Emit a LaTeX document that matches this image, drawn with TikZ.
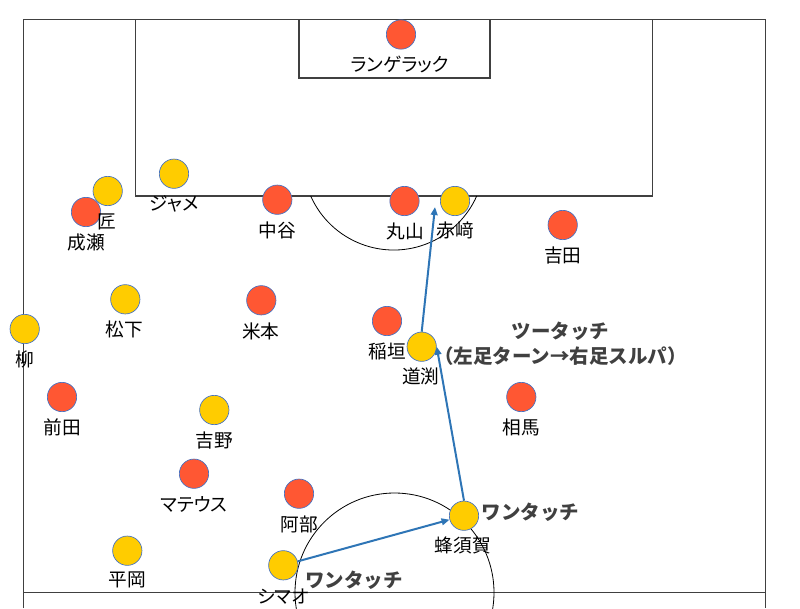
\documentclass[tikz,border=0pt]{standalone}
\usepackage{fontspec}
\setmainfont{Noto Sans CJK JP}[RawFeature={+palt}]
\newfontfamily\notefont{Noto Sans CJK JP}
\usetikzlibrary{arrows.meta,calc}
\definecolor{rosso}{HTML}{FF5733}
\definecolor{giallo}{HTML}{FFCC00}
\definecolor{bordo}{HTML}{4472C4}
\definecolor{passaggio}{HTML}{2E75B6}
\definecolor{linea}{HTML}{404040}

\begin{document}
\begin{tikzpicture}[x=0.75pt,y=-0.75pt,font=\fontsize{14}{17}\selectfont,
	avv/.style={circle,minimum size=22pt,inner sep=0pt,draw=bordo,line width=0.5pt,fill=rosso},
	noi/.style={avv,fill=giallo},
	nome/.style={inner sep=0pt},
	nota/.style={inner sep=0pt,text=linea,align=center,font=\notefont\bfseries\fontsize{14.6}{18.5}\selectfont},
	pass/.style={passaggio,line width=1.5pt,-{Triangle[length=6pt,width=5pt]}}]

	\useasboundingbox (0,0) rectangle (800,608);
	\clip (0,0) rectangle (800,608);

	% Campo
	\draw[linea, line width=0.9pt] (23.3,608) -- (23.3,19.5) -- (765.7,19.5) -- (765.7,608);
	\draw[linea, line width=0.9pt] (23.3,592.5) -- (765.7,592.5);
	\draw[linea, line width=0.9pt] (135.3,19.5) rectangle (652.3,196);
	\draw[linea, line width=0.9pt] (299,19.5) rectangle (490,78);
	\draw[line width=0.6pt] (310.7,196) arc[start angle=156.1, end angle=23.9, radius=90.8];
	\draw[line width=0.6pt] (394.5,592.5) circle[radius=99.5];

	% Avversari (rossi)
	\node[avv] (langerak) at (401,34.5) {};
	\node[avv] (naruse) at (86,212) {};
	\node[avv] (nakatani) at (277.3,199.7) {};
	\node[avv] (maruyama) at (404.5,201) {};
	\node[avv] (yoshida) at (562.7,225) {};
	\node[avv] (yonemoto) at (261.3,300.3) {};
	\node[avv] (inagaki) at (387,321) {};
	\node[avv] (maeda) at (62,397) {};
	\node[avv] (soma) at (521.3,397) {};
	\node[avv] (mateus) at (194,473.7) {};
	\node[avv] (abe) at (299,493.7) {};

	% Squadra (gialli)
	\node[noi] (takumi) at (107.7,191) {};
	\node[noi] (jame) at (174,173.7) {};
	\node[noi] (akasaki) at (455,201) {};
	\node[noi] (yanagi) at (24.7,329) {};
	\node[noi] (matsushita) at (125.3,299.3) {};
	\node[noi] (michibuchi) at (421.7,346.7) {};
	\node[noi] (yoshino) at (214.3,410) {};
	\node[noi] (hiraoka) at (127.3,550.7) {};
	\node[noi] (shimao) at (283.3,565.3) {};
	\node[noi] (hachisuka) at (464,515.7) {};

	% Nomi
	\node[nome] (l-langerak) at (400,64) {ランゲラック};
	\node[nome] (l-naruse) at (86,242) {成瀬};
	\node[nome] (l-nakatani) at (277.3,230) {中谷};
	\node[nome] (l-maruyama) at (405,231) {丸山};
	\node[nome] (l-yoshida) at (562.7,255) {吉田};
	\node[nome] (l-yonemoto) at (260.7,331) {米本};
	\node[nome] (l-inagaki) at (387,351) {稲垣};
	\node[nome] (l-maeda) at (62,427.7) {前田};
	\node[nome] (l-soma) at (521.3,427) {相馬};
	\node[nome] (l-mateus) at (194,504.3) {マテウス};
	\node[nome] (l-abe) at (299,524) {阿部};
	\node[nome] (l-takumi) at (107,222) {匠};
	\node[nome] (l-jame) at (174,204) {ジャメ};
	\node[nome] (l-akasaki) at (455,230) {赤﨑};
	\node[nome] (l-yanagi) at (24.7,359) {柳};
	\node[nome] (l-matsushita) at (124,329.3) {松下};
	\node[nome] (l-michibuchi) at (420.7,376.7) {道渕};
	\node[nome] (l-yoshino) at (214.3,440) {吉野};
	\node[nome] (l-hiraoka) at (127.3,580) {平岡};
	\node[nome] (l-shimao) at (283.3,596.7) {シマオ};
	\node[nome] (l-hachisuka) at (462.7,545.7) {蜂須賀};

	% Passaggi
	\draw[pass] (shimao) -- (hachisuka);
	\draw[pass] (hachisuka.north) -- (michibuchi.east);
	\draw[pass] (michibuchi.north) -- ($(akasaki.west)+(-5,6)$);

	\node[nota] (tocco1) at (354,580) {ワンタッチ};
	\node[nota] (tocco2) at (530.5,512) {ワンタッチ};
	\node[nota] (tocco3) at (560.5,343.5) {ツータッチ\\（左足ターン→右足スルパ）};
\end{tikzpicture}
\end{document}
